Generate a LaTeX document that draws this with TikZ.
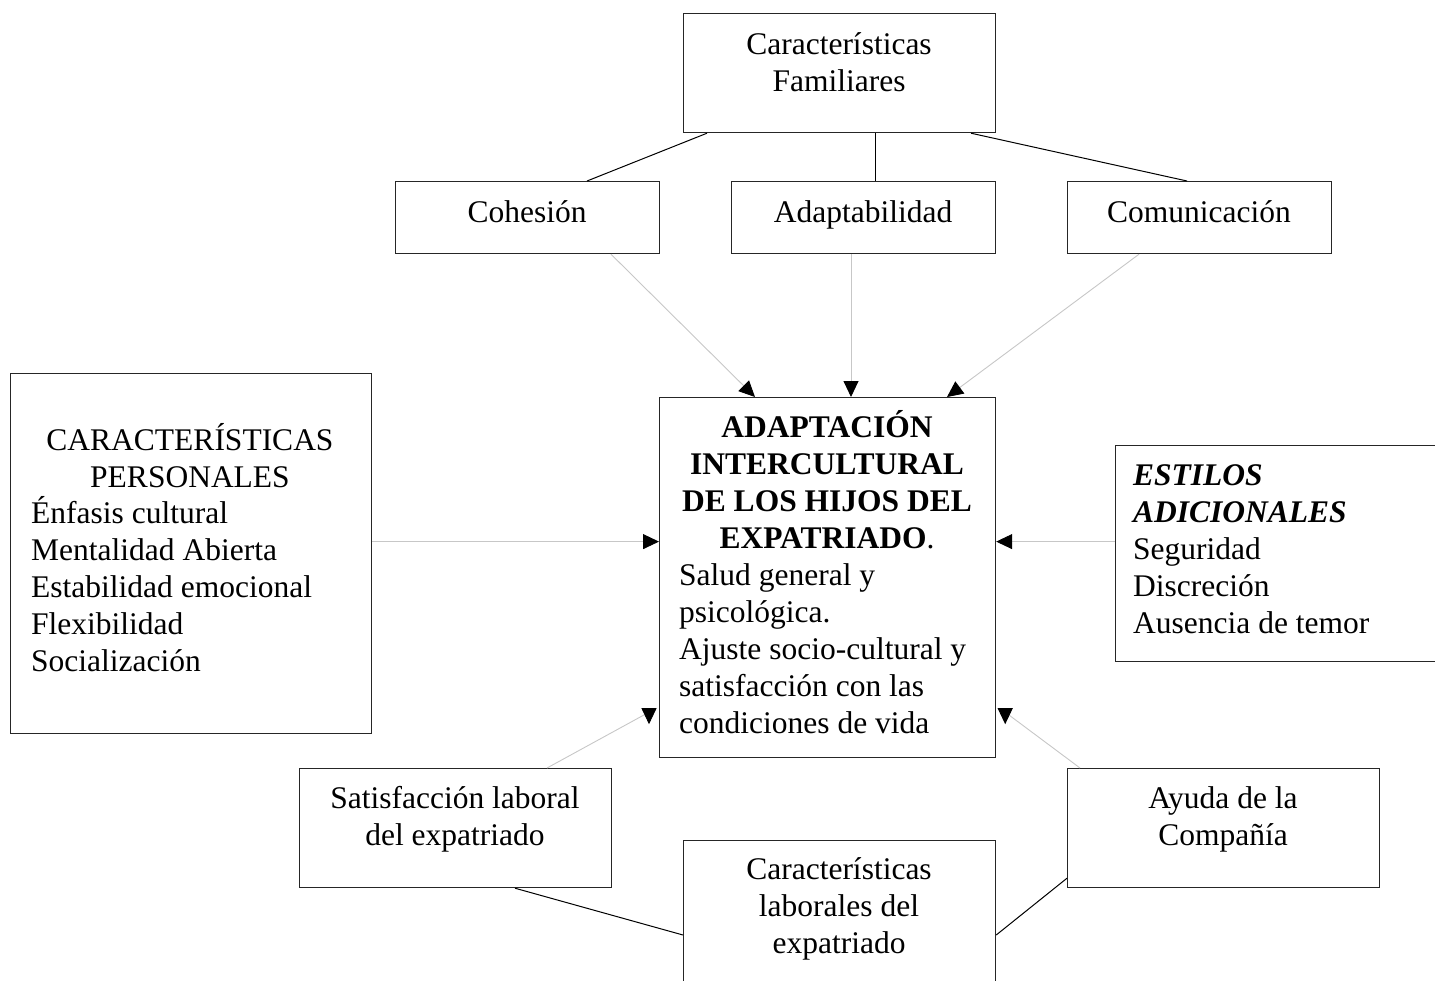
\documentclass[tikz,border=0pt]{standalone}
\usepackage{fontspec}
\setmainfont{Liberation Serif}
\usetikzlibrary{arrows.meta}
\begin{document}
\begin{tikzpicture}[x=1pt,y=-1pt,
  box/.style={draw=black!85,line width=1.2pt,fill=none,inner sep=0pt,anchor=north west},
  txt/.style={inner sep=0pt,font=\fontsize{31.5}{37}\selectfont},
  link/.style={draw=black,line width=1pt},
  arr/.style={draw=black!22,line width=0.9pt,-{Triangle[length=16pt,width=15pt,fill=black,color=black]}}]
\useasboundingbox (0,0) rectangle (1435,980);
% boxes
\node[box,minimum width=312pt,minimum height=119pt] (fam) at (683,13) {};
\node[box,minimum width=264pt,minimum height=72pt] (coh) at (395,181) {};
\node[box,minimum width=264pt,minimum height=72pt] (adp) at (731,181) {};
\node[box,minimum width=264pt,minimum height=72pt] (com) at (1067,181) {};
\node[box,minimum width=336pt,minimum height=360pt] (main) at (659,397) {};
\node[box,minimum width=361pt,minimum height=360pt] (pers) at (10,373) {};
\node[box,minimum width=330pt,minimum height=216pt] (est) at (1115,445) {};
\node[box,minimum width=312pt,minimum height=119pt] (sat) at (299,768) {};
\node[box,minimum width=312pt,minimum height=119pt] (ayu) at (1067,768) {};
\node[box,minimum width=312pt,minimum height=170pt] (lab) at (683,840) {};
% texts
\node[txt,align=center] (famt) at (839,62) {Características\\Familiares};
\node[txt,anchor=base] (coht) at (527,222) {Cohesión};
\node[txt,anchor=base] (adpt) at (863,222) {Adaptabilidad};
\node[txt,anchor=base] (comt) at (1199,222) {Comunicación};
\node[txt,align=center] (maint) at (827,480) {\textbf{ADAPTACIÓN}\\\textbf{INTERCULTURAL}\\\textbf{DE LOS HIJOS DEL}\\\textbf{EXPATRIADO}.};
\node[txt,align=left,anchor=west] (mainb) at (679,649) {Salud general y\\psicológica.\\Ajuste socio-cultural y\\satisfacción con las\\condiciones de vida};
\node[txt,align=center] (perst) at (190,456) {CARACTERÍSTICAS\\PERSONALES};
\node[txt,align=left,anchor=west] (persb) at (31,584) {Énfasis cultural\\Mentalidad Abierta\\Estabilidad emocional\\Flexibilidad\\Socialización};
\node[txt,align=left,anchor=west] (estt) at (1133,549) {\textbf{\textit{ESTILOS}}\\\textbf{\textit{ADICIONALES}}\\Seguridad\\Discreción\\Ausencia de temor};
\node[txt,align=center] (satt) at (455,819) {Satisfacción laboral\\del expatriado};
\node[txt,align=center] (ayut) at (1223,819) {Ayuda de la\\Compañía};
\node[txt,align=center] (labt) at (839,909) {Características\\laborales del\\expatriado};
% black links
\draw[link] ([xshift=24pt]fam.south west) -- ([xshift=192pt]coh.north west);
\draw[link] ([xshift=192pt]fam.south west) -- ([xshift=144pt]adp.north west);
\draw[link] ([xshift=288pt]fam.south west) -- ([xshift=120pt]com.north west);
\draw[link] ([xshift=216pt]sat.south west) -- ([yshift=-95pt]lab.north west);
\draw[link] ([yshift=10pt]ayu.south west) -- ([yshift=-95pt]lab.north east);
% arrows into main
\draw[arr] ([xshift=216pt]coh.south west) -- ([xshift=96pt]main.north west);
\draw[arr] ([xshift=120pt]adp.south west) -- ([xshift=192pt]main.north west);
\draw[arr] ([xshift=72pt]com.south west) -- ([xshift=288pt]main.north west);
\draw[arr] ([yshift=12pt]pers.east) -- ([yshift=36pt]main.west);
\draw[arr] ([yshift=12pt]est.west) -- ([yshift=36pt]main.east);
\draw[arr] ([xshift=248pt]sat.north west) -- ([xshift=-10pt,yshift=46pt]main.south west) -- ([xshift=-10pt,yshift=34pt]main.south west);
\draw[arr] ([xshift=13pt]ayu.north west) -- ([xshift=9pt,yshift=46pt]main.south east) -- ([xshift=9pt,yshift=34pt]main.south east);
\end{tikzpicture}
\end{document}
